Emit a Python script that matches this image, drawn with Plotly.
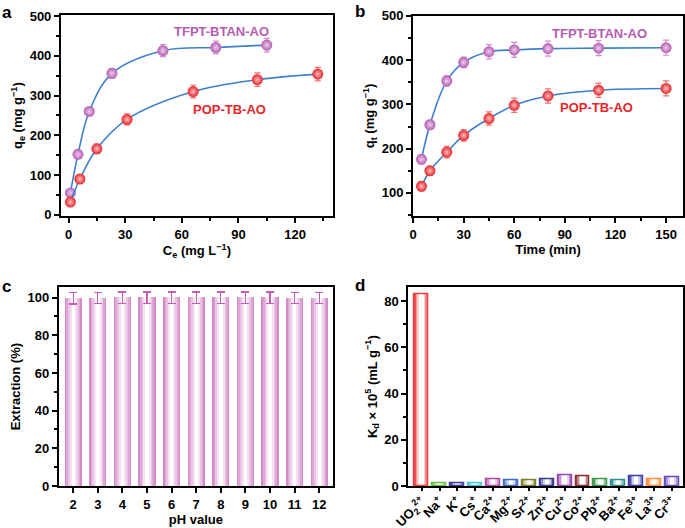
import plotly.graph_objects as go

# ---- data ----
# panel a: adsorption isotherms
a_tfpt_x = [1, 5, 11, 23, 50, 78, 105]
a_tfpt_y = [55, 152, 260, 356, 413, 421, 427]
a_tfpt_err = [8, 10, 10, 12, 15, 16, 17]
a_pop_x = [1, 6, 15, 31, 66, 100, 132]
a_pop_y = [32, 90, 166, 240, 310, 340, 354]
a_pop_err = [8, 10, 12, 14, 16, 17, 17]

# panel b: kinetics
b_time = [5, 10, 20, 30, 45, 60, 80, 110, 150]
b_tfpt_y = [176, 254, 353, 395, 419, 423, 426, 427, 428]
b_tfpt_err = [10, 10, 12, 12, 16, 17, 17, 17, 17]
b_pop_y = [115, 150, 192, 230, 268, 298, 319, 332, 336]
b_pop_err = [10, 10, 13, 13, 15, 16, 16, 16, 17]

# panel c: pH effect
ph_values = [2, 3, 4, 5, 6, 7, 8, 9, 10, 11, 12]
extraction = [99.6, 99.7, 100, 100, 100, 100, 100, 100, 100, 99.8, 99.8]
extraction_err = [3, 3, 3, 3, 3, 3, 3, 3, 3, 3, 3]

# panel d: selectivity
ions = ["UO<sub>2</sub><sup>2+</sup>", "Na<sup>+</sup>", "K<sup>+</sup>", "Cs<sup>+</sup>",
        "Ca<sup>2+</sup>", "Mg<sup>2+</sup>", "Sr<sup>2+</sup>", "Zn<sup>2+</sup>",
        "Cu<sup>2+</sup>", "Co<sup>2+</sup>", "Pb<sup>2+</sup>", "Ba<sup>2+</sup>",
        "Fe<sup>3+</sup>", "La<sup>3+</sup>", "Cr<sup>3+</sup>"]
kd_values = [83, 1.2, 1.2, 1.1, 2.8, 2.5, 2.4, 3.0, 4.6, 4.4, 3.0, 2.3, 4.2, 3.0, 3.8]
ion_colors = ["#f03c3c", "#6abf4b", "#3c3c9c", "#4fc3d8", "#b04ca8", "#3f6fc8", "#7f7f2f",
              "#3a3a90", "#9a4ab0", "#8a2f2f", "#3c9a4c", "#2f8f8f", "#3c3caa", "#ff8c3c", "#6a4ac0"]

PURPLE = "#b65cb5"
RED = "#e8252a"
FIT = "#3b7fd0"
FONT = "Liberation Sans"


def mix(hexcol, t):
    # blend colour with white, t=0 -> colour, t=1 -> white
    r, g, b = (int(hexcol[i:i + 2], 16) for i in (1, 3, 5))
    r, g, b = (round(c + (255 - c) * t) for c in (r, g, b))
    return f"rgb({r},{g},{b})"


fig = go.Figure()


def add_series(x, y, err, color, errcol, xa, ya):
    fig.add_trace(go.Scatter(
        x=x, y=y, mode="lines", line=dict(color=FIT, width=1.6, shape="spline", smoothing=1.0),
        xaxis=xa, yaxis=ya, showlegend=False, hoverinfo="skip"))
    fig.add_trace(go.Scatter(
        x=x, y=y, mode="markers", xaxis=xa, yaxis=ya, showlegend=False,
        marker=dict(size=11, color=color, gradient=dict(type="radial", color=mix(color, 0.7))),
        error_y=dict(type="data", array=err, color=errcol, thickness=1.2, width=3)))


add_series(a_tfpt_x, a_tfpt_y, a_tfpt_err, PURPLE, "#d88ad6", "x", "y")
add_series(a_pop_x, a_pop_y, a_pop_err, RED, "#f07070", "x", "y")
add_series(b_time, b_tfpt_y, b_tfpt_err, PURPLE, "#d88ad6", "x2", "y2")
add_series(b_time, b_pop_y, b_pop_err, RED, "#f07070", "x2", "y2")

# panel c: gradient bars built from overlaid bars
c_layers = [(0.70, 0.0), (0.58, 0.25), (0.44, 0.5), (0.30, 0.75), (0.14, 1.0)]
for i, (w, t) in enumerate(c_layers):
    last = i == len(c_layers) - 1
    fig.add_trace(go.Bar(
        x=ph_values, y=extraction, width=w, xaxis="x3", yaxis="y3",
        marker=dict(color=mix("#d48ac8", t), line=dict(width=0)),
        error_y=dict(type="data", array=extraction_err, color="#c45cb8", thickness=1.2, width=4,
                     visible=last),
        showlegend=False, hoverinfo="skip"))

# panel d
d_pos = list(range(len(ions)))
d_layers = [(0.78, 0.1), (0.62, 0.45), (0.44, 0.75), (0.24, 1.0)]
for w, t in d_layers:
    fig.add_trace(go.Bar(
        x=d_pos, y=kd_values, width=w, xaxis="x4", yaxis="y4",
        marker=dict(color=[mix(c, t) for c in ion_colors], line=dict(width=0)),
        showlegend=False, hoverinfo="skip"))
fig.add_trace(go.Bar(
    x=d_pos, y=kd_values, width=0.78, xaxis="x4", yaxis="y4",
    marker=dict(color="rgba(0,0,0,0)", line=dict(color=ion_colors, width=1.5)),
    showlegend=False, hoverinfo="skip"))

tickfont = dict(family=FONT, size=13, color="black", weight="bold")
titlefont = dict(family=FONT, size=13, color="black", weight="bold")


def axis(domain, anchor, **kw):
    d = dict(domain=domain, anchor=anchor, showline=True, linecolor="black", linewidth=2,
             mirror=True, ticks="outside", ticklen=5, tickwidth=1.5, tickcolor="black",
             showgrid=False, zeroline=False, tickfont=tickfont, automargin=False)
    d.update(kw)
    return d


fig.update_layout(
    template="none",
    width=685, height=528, margin=dict(l=0, r=0, t=0, b=0),
    plot_bgcolor="white", paper_bgcolor="white", barmode="overlay", bargap=0,
    font=dict(family=FONT, color="black"),
    xaxis=axis([0.089, 0.486], "y", range=[-4, 140], tickvals=[0, 30, 60, 90, 120],
               minor=dict(ticks="outside", ticklen=3, dtick=15, tick0=0, tickcolor="black"),
               title=dict(text="C<sub>e</sub> (mg L<sup>−1</sup>)", font=titlefont, standoff=4)),
    yaxis=axis([0.591, 0.971], "x", range=[-3, 502], tickvals=[0, 100, 200, 300, 400, 500],
               minor=dict(ticks="outside", ticklen=3, dtick=50, tick0=0, tickcolor="black"),
               title=dict(text="q<sub>e</sub> (mg g<sup>−1</sup>)", font=titlefont, standoff=4)),
    xaxis2=axis([0.603, 0.997], "y2", range=[0, 160], tickvals=[0, 30, 60, 90, 120, 150],
                minor=dict(ticks="outside", ticklen=3, dtick=15, tick0=0, tickcolor="black"),
                title=dict(text="Time (min)", font=titlefont, standoff=4)),
    yaxis2=axis([0.591, 0.970], "x2", range=[48, 500], tickvals=[100, 200, 300, 400, 500],
                minor=dict(ticks="outside", ticklen=3, dtick=50, tick0=0, tickcolor="black"),
                title=dict(text="q<sub>t</sub> (mg g<sup>−1</sup>)", font=titlefont, standoff=4)),
    xaxis3=axis([0.086, 0.486], "y3", range=[1.42, 12.56], tickvals=ph_values,
                title=dict(text="pH value", font=titlefont, standoff=4)),
    yaxis3=axis([0.0795, 0.456], "x3", range=[0, 105.5], tickvals=[0, 20, 40, 60, 80, 100],
                minor=dict(ticks="outside", ticklen=3, dtick=10, tick0=0, tickcolor="black"),
                title=dict(text="Extraction (%)", font=titlefont, standoff=4)),
    xaxis4=axis([0.596, 0.997], "y4", range=[-0.75, 14.6], tickvals=d_pos, ticktext=ions,
                tickangle=-45, ticklen=3, ticklabelstandoff=-2),
    yaxis4=axis([0.0795, 0.456], "x4", range=[0, 86], tickvals=[0, 20, 40, 60, 80],
                minor=dict(ticks="outside", ticklen=3, dtick=10, tick0=0, tickcolor="black"),
                title=dict(text="K<sub>d</sub> × 10<sup>5</sup> (mL g<sup>−1</sup>)",
                           font=titlefont, standoff=4)),
)

labels = [("a", 0.0, 0.977), ("b", 0.515, 0.979), ("c", 0.0, 0.458), ("d", 0.515, 0.46)]
for txt, x, y in labels:
    fig.add_annotation(text=txt, x=x, y=y, xref="paper", yref="paper", xanchor="left",
                       yanchor="middle", showarrow=False,
                       font=dict(family=FONT, size=17, color="black", weight="bold"))

series_labels = [("TFPT-BTAN-AO", PURPLE, 81, 462, "x", "y"),
                 ("POP-TB-AO", RED, 85.5, 266, "x", "y"),
                 ("TFPT-BTAN-AO", PURPLE, 110.5, 461, "x2", "y2"),
                 ("POP-TB-AO", RED, 109, 292, "x2", "y2")]
for txt, col, x, y, xr, yr in series_labels:
    fig.add_annotation(text=txt, x=x, y=y, xref=xr, yref=yr, showarrow=False,
                       font=dict(family=FONT, size=13, color=col, weight="bold"))

fig.write_html("out.html", config={"displayModeBar": False},
               post_script="document.body.style.margin='0';")
